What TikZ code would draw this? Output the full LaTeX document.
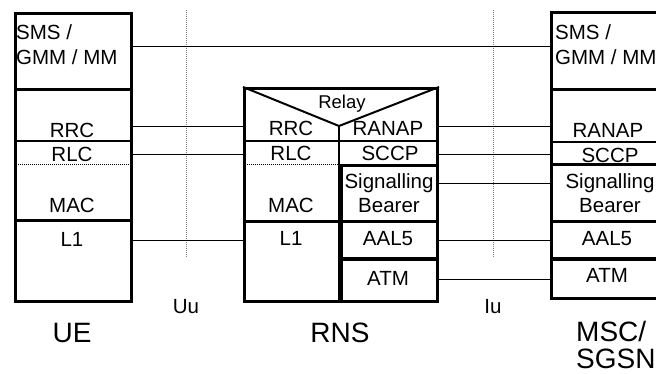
\documentclass[tikz,border=0pt]{standalone}
\usepackage{fontspec}
\setmainfont{Liberation Sans}
\usetikzlibrary{positioning, calc}

\tikzset{
  stack/.style={draw, line width=3pt, inner sep=0pt, anchor=north west},
  layer/.style={font=\fontsize{20.5}{25}\selectfont, inner sep=0pt, anchor=base},
  entity/.style={font=\fontsize{28}{27}\selectfont, inner sep=0pt, anchor=base},
  peer/.style={line width=0.9pt},
  sep/.style={line width=2pt},
  bold/.style={line width=3pt},
  fine/.style={line width=0.8pt, dash pattern=on 1pt off 1pt},
  refline/.style={line width=0.8pt, gray, dash pattern=on 1pt off 1pt}
}

\begin{document}
\begin{tikzpicture}[x=1pt, y=-1pt]
  \useasboundingbox (0,0) rectangle (656,374);
  \clip (0,0) rectangle (656,374);

  % reference points
  \draw[refline] (186,10) -- (186,258);
  \draw[refline] (493,10) -- (493,258);
  \node[layer] (uu) at (186,313) {Uu};
  \node[layer] (iu) at (493,313) {Iu};

  % UE stack
  \node[stack, minimum width=116pt, minimum height=288pt] (ue) at (14,12) {};
  \draw[bold] (ue.west |- 0,90) -- (ue.east |- 0,90);
  \draw[sep] (ue.west |- 0,141) -- (ue.east |- 0,141);
  \draw[fine] (ue.west |- 0,164) -- (ue.east |- 0,164);
  \draw[bold] (ue.west |- 0,221) -- (ue.east |- 0,221);
  \node[layer, anchor=base west, align=left] (ueNas) at (16,65) {SMS /\\GMM / MM};
  \node[layer] (ueRrc) at (72,138) {RRC};
  \node[layer] (ueRlc) at (72,162) {RLC};
  \node[layer] (ueMac) at (72,213) {MAC};
  \node[layer] (ueL1) at (72,247) {L1};
  \node[entity] (ueName) at (72,342) {UE};

  % RNS stack
  \node[stack, minimum width=193pt, minimum height=213pt] (rns) at (243,87) {};
  \coordinate (relay) at (339,126);
  \draw[sep] (rns.north west) -- (relay) -- (rns.north east);
  \draw[sep] (relay) -- (relay |- rns.south);
  \draw[sep] (rns.west |- 0,141) -- (rns.east |- 0,141);
  \draw[fine] (rns.west |- 0,164) -- (relay |- 0,164);
  \draw[bold] (rns.west |- 0,222) -- (rns.east |- 0,222);
  \draw[bold] (relay |- 0,166) -- (rns.east |- 0,166);
  \draw[bold] (341,166) -- (341,300);
  \draw[bold] (relay |- 0,259) -- (rns.east |- 0,259);
  \node[layer, font=\fontsize{18.5}{20}\selectfont] (rnsRelay) at (342,109) {Relay};
  \node[layer] (rnsRrc) at (291,136) {RRC};
  \node[layer] (rnsRanap) at (388,136) {RANAP};
  \node[layer] (rnsRlc) at (291,161) {RLC};
  \node[layer] (rnsSccp) at (390,161) {SCCP};
  \node[layer] (rnsSig) at (389,189) {Signalling};
  \node[layer] (rnsBearer) at (389,213) {Bearer};
  \node[layer] (rnsMac) at (291,213) {MAC};
  \node[layer] (rnsL1) at (291,245) {L1};
  \node[layer] (rnsAal) at (388,245) {AAL5};
  \node[layer] (rnsAtm) at (388,285) {ATM};
  \node[entity] (rnsName) at (340,342) {RNS};

  % MSC/SGSN stack
  \node[stack, minimum width=116pt, minimum height=286pt] (msc) at (550,11) {};
  \draw[bold] (msc.west |- 0,90) -- (msc.east |- 0,90);
  \draw[sep] (msc.west |- 0,142) -- (msc.east |- 0,142);
  \draw[bold] (msc.west |- 0,165) -- (msc.east |- 0,165);
  \draw[bold] (msc.west |- 0,222) -- (msc.east |- 0,222);
  \draw[bold] (msc.west |- 0,259) -- (msc.east |- 0,259);
  \node[layer, anchor=base west, align=left] (mscNas) at (555,65) {SMS /\\GMM / MM};
  \node[layer] (mscRanap) at (608,138) {RANAP};
  \node[layer] (mscSccp) at (610,163) {SCCP};
  \node[layer] (mscSig) at (610,189) {Signalling};
  \node[layer] (mscBearer) at (610,213) {Bearer};
  \node[layer] (mscAal) at (607,246) {AAL5};
  \node[layer] (mscAtm) at (607,282) {ATM};
  \node[entity, anchor=base west, align=left] (mscName) at (576,368) {MSC/\\SGSN};

  % peer links
  \draw[peer] (ue.east |- 0,46) -- (msc.west |- 0,46);
  \foreach \y in {126,154,240}
    \draw[peer] (ue.east |- 0,\y) -- (rns.west |- 0,\y);
  \foreach \y in {126,154,183,240,279}
    \draw[peer] (rns.east |- 0,\y) -- (msc.west |- 0,\y);
\end{tikzpicture}
\end{document}
